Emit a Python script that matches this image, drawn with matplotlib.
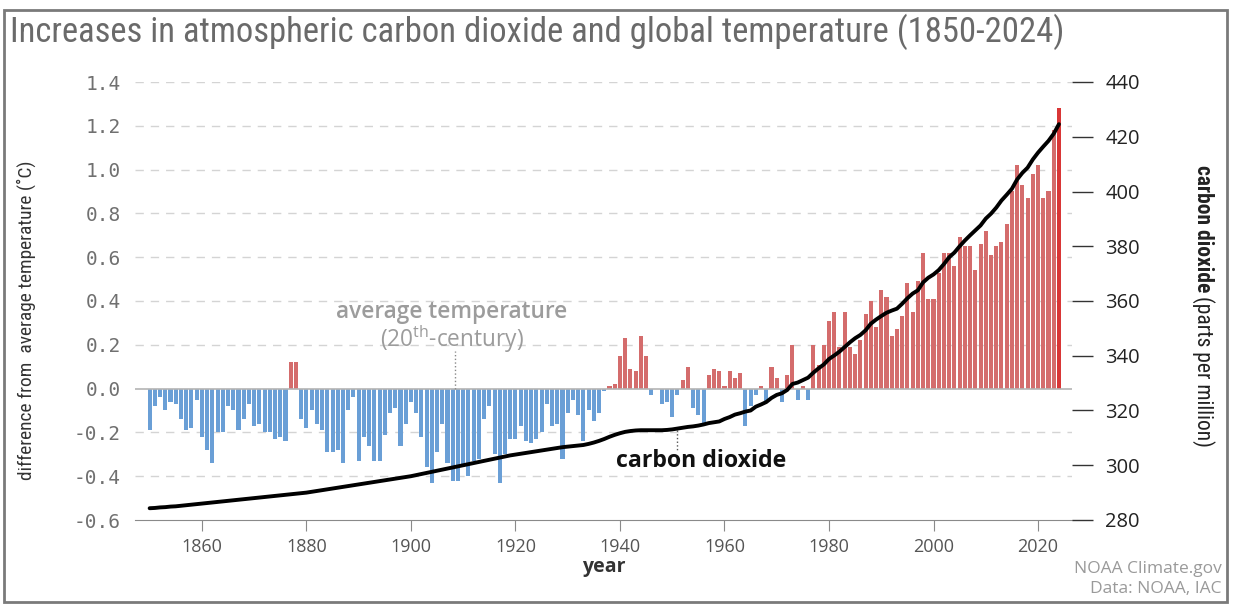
import matplotlib
matplotlib.use("Agg")
import matplotlib.pyplot as plt
from matplotlib import font_manager
from matplotlib.patches import Rectangle

W, H = 1236, 606
DPI = 100

YEARS = list(range(1850, 2025))

# temperature difference from 20th-century average (deg C), one value per year
TEMP_ANOMALY = [
    -0.19, -0.08, -0.04, -0.10, -0.06, -0.07, -0.14, -0.19, -0.18, -0.05,  # 1850s
    -0.22, -0.28, -0.34, -0.20, -0.20, -0.08, -0.10, -0.19, -0.14, -0.07,  # 1860s
    -0.17, -0.16, -0.20, -0.20, -0.23, -0.22, -0.24, 0.12, 0.12, -0.14,    # 1870s
    -0.18, -0.10, -0.16, -0.19, -0.29, -0.29, -0.28, -0.34, -0.10, -0.04,  # 1880s
    -0.33, -0.22, -0.26, -0.33, -0.33, -0.21, -0.11, -0.09, -0.26, -0.16,  # 1890s
    -0.06, -0.11, -0.22, -0.36, -0.43, -0.29, -0.16, -0.34, -0.42, -0.42,  # 1900s
    -0.36, -0.40, -0.33, -0.32, -0.14, -0.08, -0.30, -0.43, -0.30, -0.23,  # 1910s
    -0.23, -0.17, -0.24, -0.25, -0.23, -0.20, -0.07, -0.17, -0.16, -0.32,  # 1920s
    -0.11, -0.05, -0.12, -0.24, -0.10, -0.15, -0.11, -0.01, 0.01, 0.02,    # 1930s
    0.15, 0.23, 0.09, 0.08, 0.24, 0.15, -0.03, 0.00, -0.07, -0.06,         # 1940s
    -0.13, -0.03, 0.04, 0.10, -0.09, -0.12, -0.16, 0.06, 0.09, 0.08,       # 1950s
    0.01, 0.08, 0.05, 0.07, -0.17, -0.08, -0.03, 0.01, -0.06, 0.10,        # 1960s
    0.05, -0.06, 0.06, 0.20, -0.05, 0.01, -0.05, 0.20, 0.11, 0.20,         # 1970s
    0.31, 0.35, 0.19, 0.35, 0.19, 0.16, 0.22, 0.34, 0.40, 0.28,            # 1980s
    0.45, 0.42, 0.24, 0.27, 0.33, 0.48, 0.35, 0.49, 0.62, 0.41,            # 1990s
    0.41, 0.53, 0.62, 0.62, 0.56, 0.69, 0.65, 0.65, 0.54, 0.66,            # 2000s
    0.72, 0.61, 0.65, 0.67, 0.75, 0.90, 1.02, 0.93, 0.87, 0.98,            # 2010s
    1.02, 0.87, 0.90, 1.18, 1.28,                                          # 2020s
]

# atmospheric CO2 (ppm), one value per year
CO2_PPM = [
    284.3, 284.4, 284.6, 284.7, 284.9, 285.0, 285.2, 285.4, 285.6, 285.8,
    286.0, 286.2, 286.4, 286.6, 286.8, 287.0, 287.2, 287.4, 287.6, 287.8,
    288.0, 288.2, 288.4, 288.6, 288.8, 289.0, 289.2, 289.4, 289.6, 289.8,
    290.0, 290.3, 290.6, 290.9, 291.2, 291.5, 291.8, 292.1, 292.4, 292.7,
    293.0, 293.3, 293.6, 293.9, 294.2, 294.5, 294.8, 295.1, 295.4, 295.7,
    296.0, 296.4, 296.8, 297.2, 297.6, 298.0, 298.4, 298.8, 299.2, 299.6,
    300.0, 300.4, 300.8, 301.2, 301.6, 302.0, 302.4, 302.8, 303.2, 303.6,
    303.9, 304.2, 304.5, 304.8, 305.1, 305.4, 305.7, 306.0, 306.3, 306.6,
    306.8, 307.0, 307.2, 307.4, 307.8, 308.3, 308.9, 309.6, 310.4, 311.1,
    311.7, 312.2, 312.5, 312.7, 312.8, 312.8, 312.8, 312.8, 312.8, 312.9,
    313.1, 313.4, 313.7, 314.0, 314.2, 314.5, 314.9, 315.4, 315.7, 316.0,
    316.9, 317.6, 318.5, 319.0, 319.6, 320.0, 321.4, 322.2, 323.1, 324.6,
    325.7, 326.3, 327.5, 329.7, 330.2, 331.1, 332.0, 333.8, 335.4, 336.8,
    338.8, 340.1, 341.5, 343.2, 344.9, 346.4, 347.6, 349.3, 351.7, 353.2,
    354.5, 355.7, 356.5, 357.2, 359.0, 361.0, 362.7, 363.9, 366.8, 368.5,
    369.7, 371.3, 373.5, 376.0, 377.7, 380.0, 382.1, 384.0, 385.8, 387.6,
    390.1, 391.9, 394.1, 396.7, 398.8, 401.0, 404.4, 406.8, 408.7, 411.7,
    414.2, 416.4, 418.5, 421.1, 424.6,
]

TEMP_TICKS = [-0.6, -0.4, -0.2, 0.0, 0.2, 0.4, 0.6, 0.8, 1.0, 1.2, 1.4]
CO2_TICKS = [280, 300, 320, 340, 360, 380, 400, 420, 440]
YEAR_TICKS = [1860, 1880, 1900, 1920, 1940, 1960, 1980, 2000, 2020]

BLUE = "#6a9fd6"
RED = "#d46c6c"
RED_LAST = "#d93636"

installed = {f.name for f in font_manager.fontManager.ttflist}
NARROW = next((n for n in ["Roboto Condensed", "Barlow Semi Condensed", "Asap Condensed"]
               if n in installed), "Roboto")
SANS = "Open Sans"

plt.rcParams["font.family"] = [SANS, "DejaVu Sans"]
plt.rcParams["mathtext.fontset"] = "custom"
plt.rcParams["mathtext.rm"] = SANS


def fx(px):
    return px / W


def fy(py):
    return 1 - py / H


def fit_length(text, length_px, vertical=False):
    # scale the font so the text spans about length_px pixels
    fig.canvas.draw()
    bb = text.get_window_extent()
    span = bb.height if vertical else bb.width
    text.set_fontsize(text.get_fontsize() * length_px / span)


fig = plt.figure(figsize=(W / DPI, H / DPI), dpi=DPI)
fig.patches.append(Rectangle((fx(4), fy(602)), fx(1227) - fx(4), fy(10) - fy(602),
                             transform=fig.transFigure, fill=False,
                             edgecolor="#7a7a7a", linewidth=2))

ax = fig.add_axes([fx(135), fy(520), fx(937), 438 / H])
ax.set_xlim(1847.2, 2026.5)
ax.set_ylim(-0.6, 1.4)

colors = [BLUE if v < 0 else RED for v in TEMP_ANOMALY]
colors[-1] = RED_LAST
ax.bar(YEARS, TEMP_ANOMALY, width=0.78, color=colors, zorder=2)

for v in TEMP_TICKS[1:]:
    if v == 0.0:
        continue
    ax.axhline(v, color="#d4d4d4", lw=1, ls=(0, (6, 5)), zorder=0)
ax.axhline(0, color="#b4b4b4", lw=1.2, zorder=3)

for side in ["left", "right", "top"]:
    ax.spines[side].set_visible(False)
ax.spines["bottom"].set_color("#8a8a8a")

ax.set_yticks(TEMP_TICKS)
ax.set_yticklabels([f"{v:.1f}" for v in TEMP_TICKS])
ax.tick_params(axis="y", length=0, pad=10, labelsize=14, labelcolor="#707070")
for lab in ax.get_yticklabels():
    lab.set_fontfamily("DejaVu Sans Mono")

ax.set_xticks(YEAR_TICKS)
ax.tick_params(axis="x", length=8, color="#8a8a8a", pad=5, labelsize=13,
               labelcolor="#555555")
ax.set_xlabel("year", fontsize=14, fontweight="bold", color="#333333", labelpad=1)

# annotations
ax.text(1907.8, 0.35, "average temperature", ha="center", va="center",
        fontsize=16.3, fontweight="semibold", color="#9c9c9c")
ax.text(1907.8, 0.225, r"(20$^{\mathrm{th}}$-century)", ha="center", va="center",
        fontsize=16.3, color="#9c9c9c")
ax.plot([1908.4, 1908.4], [0.0, 0.17], ls=":", color="#888888", lw=1, zorder=3)

ax.text(1955.6, -0.33, "carbon dioxide", ha="center", va="center",
        fontsize=16.7, fontweight="bold", color="#111111")
ax.plot([1950.9, 1950.9], [-0.19, -0.285], ls=":", color="#555555", lw=1, zorder=3)

ax2 = ax.twinx()
ax2.set_ylim(280, 440)
ax2.plot(YEARS, CO2_PPM, color="black", lw=2.8, solid_capstyle="round")
for side in ["left", "right", "top", "bottom"]:
    ax2.spines[side].set_visible(False)
ax2.set_yticks(CO2_TICKS)
ax2.tick_params(axis="y", length=15, width=1, color="#333333", pad=9,
                labelsize=14.5, labelcolor="#222222")

# titles and labels
title = fig.text(fx(10), fy(32),
                 "Increases in atmospheric carbon dioxide and global temperature (1850-2024)",
                 ha="left", va="center", fontsize=24, color="#6a6a6a", family=NARROW)
fit_length(title, 1055)

ylab = fig.text(fx(26), fy(320), "difference from  average temperature (˚C)", rotation=90,
                ha="center", va="center", fontsize=15, color="#333333", family=NARROW)
fit_length(ylab, 320, vertical=True)

t1 = fig.text(fx(1203), fy(165), "carbon dioxide", rotation=-90, ha="center", va="top",
              fontsize=15.5, fontweight="bold", color="#222222", family=NARROW)
fig.canvas.draw()
bb = t1.get_window_extent()
fig.text(fx(1203), (bb.y0 - 4) / H, "(parts per million)", rotation=-90, ha="center",
         va="top", fontsize=15.5, color="#222222", family=NARROW)

fig.text(fx(1222), fy(569), "NOAA Climate.gov", ha="right", va="center",
         fontsize=12.5, color="#9a9a9a")
fig.text(fx(1222), fy(589), "Data: NOAA, IAC", ha="right", va="center",
         fontsize=12.5, color="#9a9a9a")

fig.savefig("out.png", dpi=DPI)
